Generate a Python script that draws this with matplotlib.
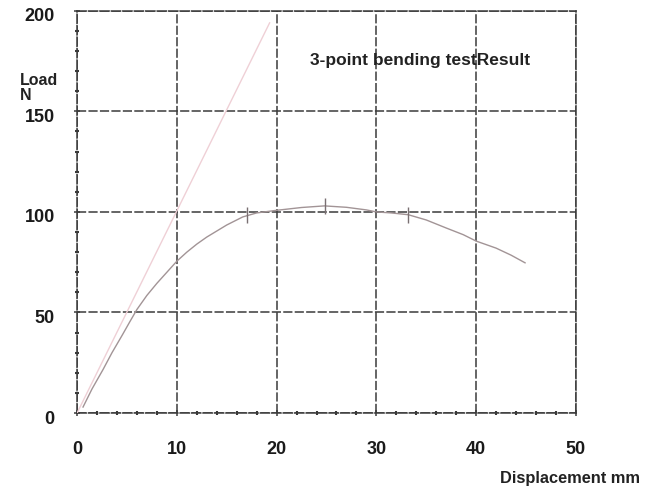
import matplotlib
matplotlib.use("Agg")
import matplotlib.pyplot as plt
import matplotlib.transforms as mtrans
from matplotlib.ticker import MultipleLocator

plt.rcParams['font.family'] = ['Liberation Sans', 'DejaVu Sans']

# Data
disp = [0.6, 1.5, 2.6, 3.5, 4.5, 5.3, 6.0, 7.0, 8.0, 9.0, 10.0, 11.0, 12.0, 13.0, 14.0, 15.0,
        16.6, 18.0, 20.0, 22.5, 24.8, 27.0, 29.0, 30.0, 31.5, 33.2, 35.0, 37.0, 38.7, 40.0,
        42.0, 43.5, 44.9]
load = [3.0, 12.0, 21.6, 30.0, 38.5, 45.5, 51.5, 58.5, 64.5, 70.0, 75.5, 80.0, 84.0, 87.5,
        90.5, 93.5, 97.5, 99.5, 100.8, 102.2, 103.0, 102.3, 101.0, 100.0, 99.5, 98.6, 96.0,
        92.0, 88.7, 85.5, 82.0, 78.5, 74.7]
lin_disp = [0.0, 19.3]
lin_load = [0.0, 194.0]
mark_disp = [17.0, 24.8, 33.2]
mark_load = [98.3, 103.0, 98.6]

xticks = [0, 10, 20, 30, 40, 50]
yticks = [0, 50, 100, 150, 200]

fig = plt.figure(figsize=(6.53, 4.9), dpi=100)
ax = fig.add_axes([0.118, 0.157, 0.764, 0.821])

ax.plot(lin_disp, lin_load, color='#efd0d6', lw=1.0, zorder=3)
ax.plot(disp, load, color='#a29496', lw=1.0, zorder=3)
ax.plot(mark_disp, mark_load, linestyle='none', marker='|', markersize=12, color='#7a7072',
        mew=1.0, zorder=4)

ax.set_xlim(0, 50)
ax.set_ylim(0, 200)
ax.set_xticks(xticks)
ax.set_yticks(yticks)
ax.xaxis.set_minor_locator(MultipleLocator(2))
ax.yaxis.set_minor_locator(MultipleLocator(10))
ax.grid(True, which='major', color='#3a3a3a', lw=1.1, linestyle=(0, (6, 1.5)))
for s in ax.spines.values():
    s.set_color('#3a3a3a')
    s.set_linewidth(1.1)
    s.set_linestyle((0, (6, 1.5)))
ax.tick_params(which='major', length=4, width=1.1, color='#3a3a3a', direction='inout',
               labelsize=13)
ax.tick_params(which='minor', length=3, width=1.5, color='#3a3a3a', direction='inout')
ax.tick_params(axis='y', pad=14)
ax.tick_params(axis='x', pad=18)
shift = mtrans.ScaledTranslation(0, -4 / 100, fig.dpi_scale_trans)
for lab in ax.get_yticklabels():
    lab.set_transform(lab.get_transform() + shift)
for lab in ax.get_xticklabels() + ax.get_yticklabels():
    lab.set_fontweight('bold')
    lab.set_color('#1a1a1a')

ax.text(23.3, 175.5, '3-point bending testResult', fontsize=12.5, fontweight='bold',
        va='center', ha='left', color='#222222')
fig.text(20/653, 1 - 88/490, 'Load\nN', fontsize=11.5, fontweight='bold', ha='left', va='center',
         linespacing=1.05, color='#222222')
fig.text(570/653, 1 - 478/490, 'Displacement mm', fontsize=11.8, fontweight='bold', ha='center',
         va='center', color='#222222')

fig.savefig('out.png', dpi=100)
